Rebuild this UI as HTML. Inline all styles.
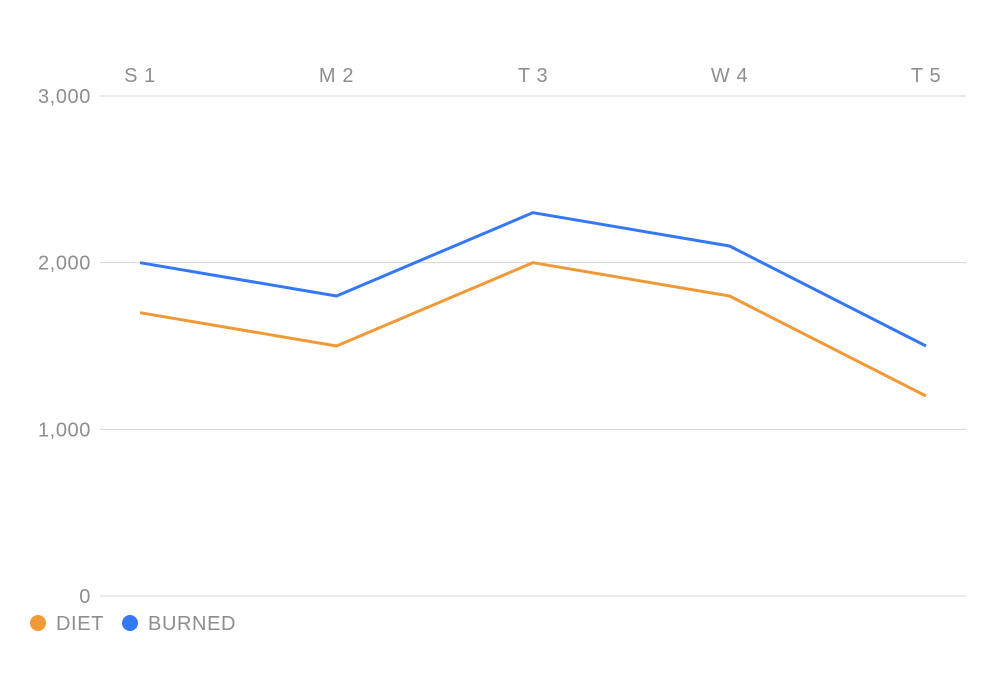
<!DOCTYPE html>
<html><head><meta charset="utf-8"><style>
html,body{margin:0;padding:0;background:#fff;}
svg{display:block;font-family:"Liberation Sans",sans-serif;}
text{letter-spacing:0.6px;}
</style></head><body>
<svg id="chart" width="996" height="696"></svg>
<script>
const categories=["S 1","M 2","T 3","W 4","T 5"];
const diet=[1700,1500,2000,1800,1200];
const burned=[2000,1800,2300,2100,1500];
const yTicks=[0,1000,2000,3000];
const yTickLabels=["0","1,000","2,000","3,000"];
const NS="http://www.w3.org/2000/svg";
const svg=document.getElementById("chart");
const x0=140,x1=926,y0=596,y3=96;
function xs(i){return x0+(x1-x0)*i/(categories.length-1);}
function ys(v){return y0-(y0-y3)*v/3000;}
function el(t,a){const e=document.createElementNS(NS,t);for(const k in a)e.setAttribute(k,a[k]);svg.appendChild(e);return e;}
yTicks.forEach((v,i)=>{
  const l=el("line",{x1:100,x2:966,y1:ys(v),y2:ys(v),stroke:"#d6d6d6","stroke-width":1});
  
  
  const t=el("text",{x:91,y:ys(v)+7,"text-anchor":"end","font-size":20,fill:"#8e8e8e"});
  t.textContent=yTickLabels[i];
  
  
});
categories.forEach((c,i)=>{
  const t=el("text",{x:xs(i),y:82,"text-anchor":"middle","font-size":20,fill:"#8e8e8e"});
  t.textContent=c;
  
  
});
function series(vals,color,name){
  const p=el("polyline",{points:vals.map((v,i)=>xs(i)+","+ys(v)).join(" "),fill:"none",stroke:color,"stroke-width":3,"stroke-linejoin":"round"});
  
  
}
series(diet,"#f09a37","diet-line");
series(burned,"#3478f6","burned-line");
function legend(x,color,label,name){
  const c=el("circle",{cx:x,cy:623,r:8,fill:color});
  
  
  const t=el("text",{x:x+18,y:630,"font-size":20,fill:"#8e8e8e"});
  t.textContent=label;
  
  
}
legend(38,"#f09a37","DIET","legend-diet");
legend(130,"#3478f6","BURNED","legend-burned");
</script>
</body></html>
